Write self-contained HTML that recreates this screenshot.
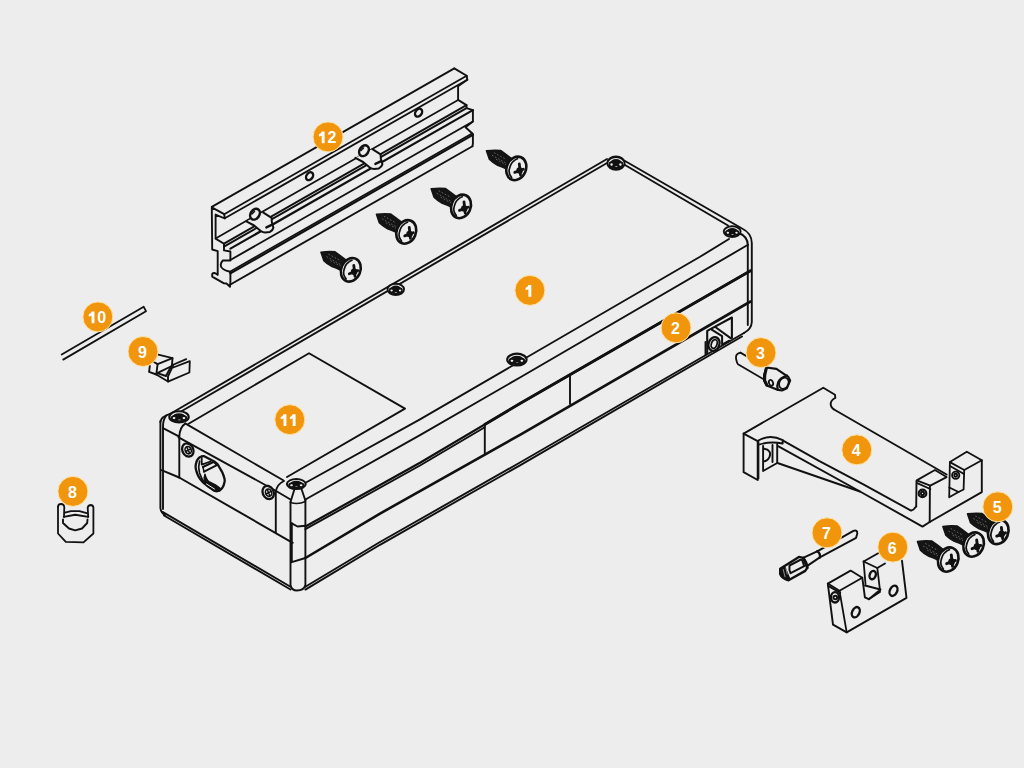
<!DOCTYPE html>
<html><head><meta charset="utf-8">
<style>
html,body{margin:0;padding:0;background:#EDEDED;width:1024px;height:768px;overflow:hidden}
svg{display:block}
.b text{font-family:"Liberation Sans",sans-serif;font-weight:bold;font-size:16px;fill:#fff;text-anchor:middle}
</style></head><body>
<svg width="1024" height="768" viewBox="0 0 1024 768">
<defs>
<g id="scr">
 <path d="M-29.8,-17.6 Q-22,-18.6 -15.8,-17.9 L-11,-14.5 L-4.7,-9.7 L-3,-2 L-9.4,0.6 L-14,-1.5 L-18.7,-3.2 Q-24,-6 -26.9,-9.1 Z" fill="#141414" stroke="#141414" stroke-width="1.6" stroke-linejoin="round"/>
 <path d="M-24,-13 L-8,-4 M-20,-9 L-10,-3.5 M-22,-15.5 L-12,-10" stroke="#6a6a6a" stroke-width="0.9" stroke-dasharray="0.9 2.6" fill="none"/>
 <ellipse cx="0" cy="0" rx="9.6" ry="12.1" transform="rotate(23)" fill="#EDEDED" stroke="#111" stroke-width="2.6"/>
 <path d="M-4.7,9.1 Q-8,5 -7,1 Q-5.5,-5 -3.5,-6.5 Q-1,-9 1.2,-9.7" fill="none" stroke="#111" stroke-width="1.7"/>
 <path d="M-1.5,4 L7,0.8 M3,-4.5 L4.2,6.5" stroke="#111" stroke-width="2.8" stroke-linecap="round"/>
 <circle cx="3.3" cy="2" r="2.3" fill="#111"/>
</g>
<g id="nut">
 <ellipse cx="0" cy="0" rx="9.4" ry="5.6" fill="#EDEDED" stroke="#111" stroke-width="2.1"/>
 <ellipse cx="0" cy="0.5" rx="5.6" ry="3.3" fill="#111"/>
 <ellipse cx="-4.8" cy="1.2" rx="2.3" ry="2" fill="#EDEDED"/>
 <ellipse cx="4.8" cy="1.2" rx="2.3" ry="2" fill="#EDEDED"/>
 <ellipse cx="0.2" cy="3" rx="2.4" ry="1.3" fill="#EDEDED"/>
</g>
</defs>
<g fill="none" stroke="#111" stroke-width="1.9" stroke-linejoin="round" stroke-linecap="round">

<!-- BOX item 1 -->
<g id="box">
 <!-- top back edge double: y=400-0.5835(x-194) -->
 <path d="M170,413.8 Q161,416.5 160.4,422"/>
 <path d="M170,414 L607,159"/>
 <path d="M178,413.3 L607,163"/>
 <!-- back right edge double -->
 <path d="M624.6,160.8 L742,228.5 Q751.6,233 751.8,243 L751.8,322 Q751.5,329 744,333"/>
 <path d="M624.6,164.8 L728,225.5"/>
 <path d="M739,233 Q747.8,236.5 747.8,245 L747.8,325"/>
 <!-- front long face -->
 <path d="M306,482.5 L420,419.3 L700,256.8 L729,239"/>
 <path d="M305.4,499.5 L420,435.2 L520,377.5 L748,244.8"/>
 <path d="M305.4,526.5 L420,462.8 L520,403.5 L750.5,270.8" stroke-width="2.2"/><path d="M484.8,424.5 L520,403.5 L750.5,270.8" stroke-width="2.9"/>
 <path d="M305.4,529.2 L420,465.5 L484.8,427.2"/>
 <path d="M305.4,558 L380,513.6 L520,434.8 L750.5,301.5" stroke-width="2.6"/>
 <path d="M305.4,586.8 L380,542 L520,462.5 L744,333"/>
 <path d="M305.4,589.6 L380,544.8 L520,465.3 L742,336.5"/>
 <path d="M484.8,425.6 L484.8,453.5"/>
 <path d="M570,376 L570,404"/>
 <!-- front corner post -->
 <path d="M290.5,502 L290.5,585 Q291.5,590.5 297,590.5 Q304,590.5 305.4,585 L305.4,500"/>
 <path d="M290.5,502 L294.5,489 M305.4,500.5 L301.5,489"/>
 <path d="M290.5,502.5 Q298,505 305.4,501.5" stroke-width="1.5"/>
 <path d="M291.8,523.3 L291.8,562.2 L305.4,558"/>
 <path d="M291.8,523.3 L297.5,526.5 L305.4,525.8"/>
 <path d="M275.8,492 L275.8,532.5"/>
 <path d="M275.8,492 Q277,484 284,481"/>
 <!-- left short face -->
 <path d="M185.2,423.4 L283.2,480.3"/>
 <path d="M178.6,437.3 L274.4,490 L290.5,499.5"/>
 <path d="M179.2,477.5 L292.7,542.8" stroke-width="2"/>
 <path d="M161.5,470.2 L179.2,477.5"/>
 <path d="M162.5,511.9 L290.5,586.8"/>
 <path d="M164,515.5 L290.5,589.5"/>
 <!-- left corner post -->
 <path d="M160.4,421 L160.4,508 Q161,513 165,515"/>
 <path d="M166.3,415.5 Q162.6,420 163,428.2 L163,509"/>
 <path d="M163,428.2 L179.3,436.7 L179.3,477.5 M179.3,436.7 Q179.8,427 185.2,423.6"/>
 <!-- label 11 -->
 <path d="M188.6,423.7 L309,353.2 L405,408.6 L287,477"/>
</g>
<g id="nuts">
 <use href="#nut" transform="translate(395.8,289.3) scale(0.88,1)"/>
 <use href="#nut" transform="translate(516.9,359.6) scale(1.03,1.05)"/>
 <use href="#nut" transform="translate(616,163.2) scale(0.92,1.15)"/>
 <use href="#nut" transform="translate(732.2,231.6) scale(0.9,0.95)"/>
 <use href="#nut" transform="translate(179,416.9) scale(1.03,1)"/>
 <use href="#nut" transform="translate(296.3,484.1) scale(1,0.9)"/>
 <!-- side small screws -->
 <g transform="translate(187.8,450) rotate(-25)"><ellipse cx="0" cy="0" rx="5.4" ry="6.8" fill="#EDEDED" stroke-width="2.3" stroke-dasharray="2 0.6"/><ellipse cx="0.3" cy="0.3" rx="3" ry="3.8" stroke-width="1.6"/><path d="M-2.2,0.3 L2.8,0.3 M0.3,-3 L0.3,3.6" stroke-width="1.5"/></g>
 <g transform="translate(268.2,492.5) rotate(-25)"><ellipse cx="0" cy="0" rx="5.4" ry="6.8" fill="#EDEDED" stroke-width="2.3" stroke-dasharray="2 0.6"/><ellipse cx="0.3" cy="0.3" rx="3" ry="3.8" stroke-width="1.6"/><path d="M-2.2,0.3 L2.8,0.3 M0.3,-3 L0.3,3.6" stroke-width="1.5"/></g>
 <!-- port -->
 <path d="M204.1,456.2 Q199,455.8 196.6,461.5 Q195,466 196,469.5 Q197,474 198.8,476.9 Q201,480.5 203.5,482.8 L206.4,485.1 Q210,488 214.6,491 Q218,491.8 220.5,489.8 Q223.5,487 224,484 Q225,481 224.6,479.3 Q223.5,474.5 221.6,471.1 L217.5,464.1 L214.6,461.7 Z" fill="#EDEDED" stroke-width="2.3" stroke-dasharray="2.2 0.5"/>
 <path d="M199.6,461 Q197.8,467 199.5,473 Q201.5,479 204.8,483" stroke-width="1.7"/>
 <path d="M201.7,458 L201.7,464.6 L210.5,461.5" stroke-width="1.8"/>
 <path d="M202.9,467 L213.4,462 M204.1,471.7 L216.9,465.2" stroke-width="2"/>
 <path d="M202.9,467 L204.1,471.7 M213.4,462 L216.9,465.2" stroke-width="1.5"/>
 <path d="M205,474 Q206.5,480 209,481.5 L215,484.5 Q219,487 221,489 L217,490.5 Q212,488 207,485.5 Q204.5,482 204,478 Z" fill="#111" stroke-width="1.2"/>
 <path d="M206.5,484 L214.5,489" stroke="#EDEDED" stroke-width="1"/>
 <!-- socket on right -->
 <path d="M707.2,353.7 L707.2,330.9 L731.9,317.5 L731.9,338" stroke-width="2.1"/>
 <path d="M705.5,342 L705.5,355"/>
 <path d="M715.6,327.3 L730.6,338.1" stroke-width="2"/>
 <path d="M711.7,329.6 L722.1,336.1 L722.1,344.6 L729.3,340.7" stroke-width="2"/>
 <ellipse cx="714" cy="344" rx="5.4" ry="7" transform="rotate(20 714 344)" fill="#EDEDED" stroke-width="2.3"/>
 <ellipse cx="714.2" cy="344" rx="2.8" ry="4.5" transform="rotate(20 714.2 344)" stroke-width="1.8"/>
</g>
<g id="rail">
<path d="M211.8,207.4 L224.2,214.2 L224.8,218.5 L215.6,214.6 L215.6,238.6 L224,243.8 L224,250.4 L230.4,251.5 L230.4,260.5 L222.8,260.5 Q219.5,264 221.5,267.5 Q224,270.5 229.5,271.5 L230.4,272.5 L230.4,282 L230,286.7 L226.5,283.5 L224,283.4 L212.2,276.6 L212.2,274 Q214,271.5 217.7,274.9 L217.7,251.2 L212.2,249.5 Z" stroke-width="1.9"/>
<path d="M211.8,206.9 L454.3,68.4" stroke-width="1.9"/>
<path d="M224.2,214.2 L466.7,75.7" stroke-width="1.8"/>
<path d="M224.8,218.3 L467.3,79.8" stroke-width="1.8"/>
<path d="M215.6,238.4 L458.1,99.9" stroke-width="1.7"/>
<path d="M224,243.6 L466.5,105.1" stroke-width="1.9"/>
<path d="M224,246.6 L466.5,108.1" stroke-width="2.0"/>
<path d="M230.4,248.6 L472.9,110.1" stroke-width="2.2"/>
<path d="M230.4,260 L472.9,121.5" stroke-width="1.9"/>
<path d="M229.5,271.9 L472.0,133.4" stroke-width="1.7"/>
<path d="M230.4,273.4 L472.9,134.9" stroke-width="2.2"/>
<path d="M230,284.7 L472.5,146.2" stroke-width="1.9"/>
<path d="M454.3,68.4 L466.7,75.7 L467.3,79.8 L458.1,86.2 L458.1,99.9 L466.5,105.1 L466.5,108.1 L472.9,110.1 L472.9,121.5 L465.5,127.2 L472.9,134 L472.9,134.9 L472.9,143.5 L472.5,146.2" stroke-width="1.9"/>
<g transform="translate(0,0)"><path d="M246.4,221.4 L254.1,225.5 L260.5,230.7 Q263,232.5 265.2,232.5 L269.9,231.9 Q273,230 273.4,227.8 L271.8,222 L271.6,217.8 L263.4,212.6" fill="#EDEDED" stroke-width="2"/><ellipse cx="255" cy="214.2" rx="4.3" ry="5.8" transform="rotate(35 255 214.2)" fill="#EDEDED" stroke-width="2.6"/><path d="M252,214 L254.5,211.5" stroke-width="1.4"/><path d="M266.4,227.4 L272.2,224.6" stroke-width="2.4"/><ellipse cx="309.6" cy="176.2" rx="3.1" ry="4.3" transform="rotate(35 309.6 176.2)" stroke-width="2.4"/></g>
<g transform="translate(109,-63.5)"><path d="M246.4,221.4 L254.1,225.5 L260.5,230.7 Q263,232.5 265.2,232.5 L269.9,231.9 Q273,230 273.4,227.8 L271.8,222 L271.6,217.8 L263.4,212.6" fill="#EDEDED" stroke-width="2"/><ellipse cx="255" cy="214.2" rx="4.3" ry="5.8" transform="rotate(35 255 214.2)" fill="#EDEDED" stroke-width="2.6"/><path d="M252,214 L254.5,211.5" stroke-width="1.4"/><path d="M266.4,227.4 L272.2,224.6" stroke-width="2.4"/><ellipse cx="309.6" cy="176.2" rx="3.1" ry="4.3" transform="rotate(35 309.6 176.2)" stroke-width="2.4"/></g>
</g>

<g id="parts">
 <!-- item 10 rod -->
 <path d="M61.7,354.5 L143.7,306.8 L146,311.2 L63.2,359.6" stroke-width="1.8"/>
 <!-- item 9 clip -->
 <path d="M158.2,354.6 L172.5,358.2 L157.6,364.1 L152,361" stroke-width="1.8"/>
 <path d="M172.5,358.2 L171.9,366 L157.2,373.2"/>
 <path d="M157.6,364.1 L156.3,374.5 L149.1,371.9 L149.8,366"/>
 <path d="M156.3,374.5 L168,381.6 L189.4,372.5 L189.8,361.1 L173.2,367.5" stroke-width="1.8"/>
 <path d="M186.2,359.2 L172.5,365"/>
 <path d="M173.2,365.4 L168,376.4 L168,381.6"/>
 <path d="M171,366.5 L166,376 L157.2,373.2"/>
 <!-- item 8 -->
 <path d="M58,507 Q58,504 61,504 Q64,504 64.3,507 L64,516.9" stroke-width="1.8"/>
 <path d="M58,507 L58,533.5 L65.8,541.9 L83.5,542.4 L93.4,533.5 L93.4,507.4 Q93,505 90.5,505 Q88,505.5 87.7,507.5 L88.2,516.9" stroke-width="1.8"/>
 <path d="M64.8,512.7 L71,511.1 L79.4,511.1 L86.7,513.2"/>
 <path d="M63.8,516.9 L75.2,514.8 L88.2,516.9"/>
 <path d="M63,519.5 L63,523 L69,528.5 L75.2,530.4 L82,528.5 L87.2,523 L87.5,519.5"/>
 <!-- item 3 pin -->
 <path d="M740.4,352.6 L757.5,362.5" stroke-width="1.8"/>
 <path d="M740.4,352.6 Q735,353.5 736.2,359.5 Q737,363.5 738,364.2 L764.1,379.5" stroke-width="1.8"/>
 <path d="M766.4,367.5 L776.4,368.9 L788.3,376.9 L790.1,380.5 L786.9,388.2 L781.9,390.5 L776.9,389.6 L766.8,385.5 L764.1,380.5 L764.1,375 Z" fill="#EDEDED" stroke-width="2.2"/>
 <path d="M766.4,368 L764.8,375 L764.6,380.5 L766.8,385" stroke-width="3"/>
 <path d="M786.9,375.5 Q780,378 778.3,382 Q776.5,386 777.8,389.6" stroke-width="2.2"/>
 <ellipse cx="783.9" cy="383.3" rx="4.6" ry="5.8" transform="rotate(25 783.9 383.3)" stroke-width="1.8"/>
 <ellipse cx="771" cy="382.8" rx="2" ry="3" transform="rotate(-20 771 382.8)" stroke-width="1.8"/>
<!-- item 4 bracket -->
 <path d="M743.6,433.6 L823.3,387.8 L835,394.8 L835.3,398 Q830,400.5 830.8,405 Q831.5,408.5 835.8,410.5 L946.6,474.5" stroke-width="1.9"/>
 <path d="M743.6,433.6 L743.6,472.2 L757.7,480 L757.7,441.2 Z" stroke-width="1.9"/>
 <path d="M758.4,478.4 L758.4,440.5 Q770,433.5 782.7,440.2 L782.7,443.5 Q770,441 758.4,444.8"/>
 <path d="M763.1,446 L763.1,471 L777.2,463"/>
 <path d="M772.5,445 L772.5,462 M777.2,444 L777.2,462"/>
 <path d="M764,448.8 Q772,450 769.5,457 Q767,461.5 764,461.3"/>
 <path d="M783.1,440.6 L819,460.8 L862.9,484.2 L911,510.6 L913.5,509.5 L916.2,506.4" stroke-width="1.9"/>
 <path d="M778.5,446.3 L860,491.5"/>
 <path d="M777.5,463 L860,491.5 L922.5,526.6 L929.7,522" stroke-width="1.9"/>
 <path d="M916.7,480.4 L934.9,470 L946.6,477.1 L930.3,485.6 Z" stroke-width="1.8"/>
 <path d="M917.2,483.2 L930.3,489"/>
 <path d="M916.5,481 L916.2,506.4"/><path d="M929.9,486 L929.7,522" stroke-width="1.9"/>
 <circle cx="922.5" cy="493.4" r="3.8" stroke-width="2.2"/><circle cx="922.5" cy="493.4" r="1.6"/>
 <path d="M949.9,462.1 L966.8,451.7 L981.8,460.2 L964.2,470 Z" stroke-width="1.8"/>
 <path d="M950,466 L964,474"/>
 <path d="M949.9,462.1 L949.2,497.3 L958.5,492 L963.6,489.5 L964.2,470" stroke-width="1.8"/>
 <path d="M949.4,487.5 L958.5,492"/>
 <path d="M981.8,460.2 L981.8,492.1 L929.7,522" stroke-width="1.9"/>
 <circle cx="955.7" cy="475.2" r="3.6" stroke-width="1.9"/><circle cx="955.7" cy="475.2" r="1.5"/>
<!-- item 7 pin -->
 <path d="M817.7,551.1 L853.4,530.9 Q857.5,529.5 857.3,533.5 L856.1,537.8 L819.8,557.4" stroke-width="1.9"/>
 <path d="M817.2,551.3 Q820.8,553.5 819.8,557.6" stroke-width="2.3"/>
 <path d="M803.1,557.9 L817.7,551.1 M807.3,565.8 L819.8,557.4" stroke-width="2"/>
 <path d="M780.2,568.8 L798.9,556.9 L803.1,557.9 L807.3,567.8 L805.2,570.9 L788.5,580.3 Q782,578.5 780.2,574 Z" fill="#EDEDED" stroke-width="2.4"/>
 <path d="M780.2,568.8 L784.5,566.2 L789.5,578.3 L788.5,580.3 Q782,578.5 780.2,574 Z" fill="#111" stroke-width="1.4"/>
 <path d="M783.2,569.5 L785,576.8 M786,568.5 L787.3,574" stroke="#9a9a9a" stroke-width="0.9"/>
 <path d="M789.5,565.5 L800,560 Q802,559.3 802.6,561.2 L804.2,566.2 L790.6,573.2 Q788.8,570 789.5,565.5 Z" stroke-width="2"/>
 <path d="M803.1,557.9 Q806.8,562 807.3,567.8" stroke-width="2.6"/>
<!-- item 6 block -->
 <path d="M827.8,583.6 L850.6,570.6 L862.3,577.7 L839.5,590.8 Z" stroke-width="1.8"/>
 <path d="M828.5,586.2 L840.2,592.7"/>
 <path d="M827.8,583.6 L833,624.6 L846.7,632.4 L906.5,597.9 L902,560.8" stroke-width="1.9"/>
 <path d="M839.5,590.8 L846.7,632.4" stroke-width="1.8"/>
 <path d="M862.3,577.7 L864.9,597.3 L868.8,599.2 L879.9,592 L879.9,589.5"/>
 <path d="M865,585.5 L880.5,589.5 L868.8,599.2"/>
 <path d="M863.6,561.5 L878.6,553 M863.6,561.5 L877.3,568 L885,563.5"/>
 <path d="M863.6,561.5 L865.5,584.2 M877.3,568 L879.9,589.5" stroke-width="1.8"/>
 <ellipse cx="835" cy="597.3" rx="4" ry="5.2" stroke-width="2.4"/><circle cx="835.3" cy="597.5" r="1.8"/>
 <ellipse cx="872.7" cy="575.1" rx="3" ry="4.3" transform="rotate(20 872.7 575.1)" stroke-width="2.4"/>
 <ellipse cx="893.5" cy="590.8" rx="3.6" ry="5.4" transform="rotate(25 893.5 590.8)" stroke-width="2.4"/>
 <ellipse cx="855.8" cy="612.2" rx="3.6" ry="5.4" transform="rotate(25 855.8 612.2)" stroke-width="2.4"/>
</g>
<!-- screws -->
<use href="#scr" transform="translate(350.8,269.8)"/>
<use href="#scr" transform="translate(406.25,231.9)"/>
<use href="#scr" transform="translate(461,206.4)"/>
<use href="#scr" transform="translate(516.3,168.4)"/>
<use href="#scr" transform="translate(948.2,559.6) scale(1.03)"/>
<use href="#scr" transform="translate(973.6,544.6) scale(1.03)"/>
<use href="#scr" transform="translate(998.3,532) scale(1.03)"/>
</g>
<g id="badges" font-family="Liberation Sans, sans-serif" font-weight="bold" font-size="16" fill="#fff">
<circle cx="529.9" cy="290.4" r="15" fill="#F0950C" stroke="#FFE4A6" stroke-width="1"/>
<path d="M528.40,285.05 h2.9 v11.7 h-2.9 v-7.5 q-1.3,0.7 -2.8,0.75 v-2.3 q2.2,-0.4 2.8,-2.65 z" fill="#fff"/>
<circle cx="676.05" cy="327.8" r="15" fill="#F0950C" stroke="#FFE4A6" stroke-width="1"/>
<text x="675.55" y="334.30" text-anchor="middle">2</text>
<circle cx="761" cy="352.6" r="15" fill="#F0950C" stroke="#FFE4A6" stroke-width="1"/>
<text x="760.50" y="359.10" text-anchor="middle">3</text>
<circle cx="856.8" cy="449.8" r="15" fill="#F0950C" stroke="#FFE4A6" stroke-width="1"/>
<text x="856.30" y="456.30" text-anchor="middle">4</text>
<circle cx="997.8" cy="506.8" r="15" fill="#F0950C" stroke="#FFE4A6" stroke-width="1"/>
<text x="997.30" y="513.30" text-anchor="middle">5</text>
<circle cx="892.8" cy="547.15" r="15" fill="#F0950C" stroke="#FFE4A6" stroke-width="1"/>
<text x="892.30" y="553.65" text-anchor="middle">6</text>
<circle cx="827" cy="532.8" r="15" fill="#F0950C" stroke="#FFE4A6" stroke-width="1"/>
<text x="826.50" y="539.30" text-anchor="middle">7</text>
<circle cx="72.9" cy="491.4" r="15" fill="#F0950C" stroke="#FFE4A6" stroke-width="1"/>
<text x="72.40" y="497.90" text-anchor="middle">8</text>
<circle cx="143" cy="351.5" r="15" fill="#F0950C" stroke="#FFE4A6" stroke-width="1"/>
<text x="142.50" y="358.00" text-anchor="middle">9</text>
<circle cx="97.85" cy="316.9" r="15" fill="#F0950C" stroke="#FFE4A6" stroke-width="1"/>
<path d="M91.55,311.55 h2.9 v11.7 h-2.9 v-7.5 q-1.3,0.7 -2.8,0.75 v-2.3 q2.2,-0.4 2.8,-2.65 z" fill="#fff"/>
<text x="97.35" y="323.40">0</text>
<circle cx="289.8" cy="419.65" r="15" fill="#F0950C" stroke="#FFE4A6" stroke-width="1"/>
<path d="M283.50,414.30 h2.9 v11.7 h-2.9 v-7.5 q-1.3,0.7 -2.8,0.75 v-2.3 q2.2,-0.4 2.8,-2.65 z" fill="#fff"/>
<path d="M292.70,414.30 h2.9 v11.7 h-2.9 v-7.5 q-1.3,0.7 -2.8,0.75 v-2.3 q2.2,-0.4 2.8,-2.65 z" fill="#fff"/>
<circle cx="328" cy="136.9" r="15" fill="#F0950C" stroke="#FFE4A6" stroke-width="1"/>
<path d="M321.70,131.55 h2.9 v11.7 h-2.9 v-7.5 q-1.3,0.7 -2.8,0.75 v-2.3 q2.2,-0.4 2.8,-2.65 z" fill="#fff"/>
<text x="327.50" y="143.40">2</text>
</g>
</svg>
</body></html>
